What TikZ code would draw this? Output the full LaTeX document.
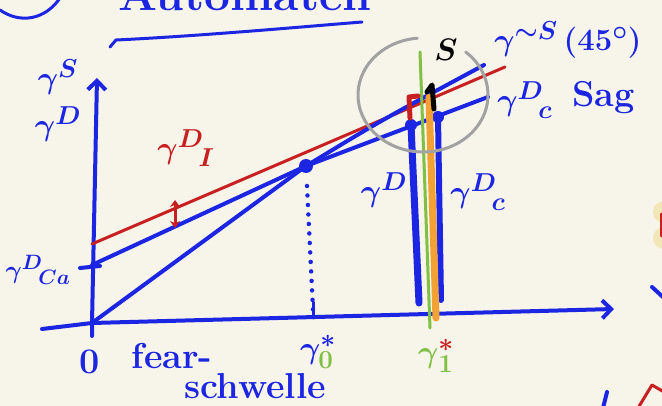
\documentclass[tikz,border=0pt]{standalone}
\usepackage{amsmath}
\usetikzlibrary{arrows.meta}
\definecolor{pen}{RGB}{28,38,226}
\definecolor{redpen}{RGB}{200,32,32}
\definecolor{greenpen}{RGB}{128,192,68}
\definecolor{orangepen}{RGB}{242,162,52}
\definecolor{graypen}{RGB}{162,162,162}
\definecolor{paper}{RGB}{247,244,234}
\definecolor{paleyellow}{RGB}{243,230,183}
\begin{document}
\begin{tikzpicture}[x=1pt,y=-1pt,line cap=round,line join=round,
  ink/.style={draw=pen,line width=4pt},
  redink/.style={draw=redpen,line width=3pt},
  lbl/.style={text=pen,inner sep=0pt,scale=1.25,font=\fontsize{24.88}{28}\selectfont\boldmath},
  word/.style={text=pen,inner sep=0pt,font=\fontsize{36}{40}\selectfont\bfseries},
  barb/.style={-{Straight Barb[length=9pt,width=18pt]}},
  dotb/.style={circle,fill=pen,inner sep=0pt,minimum size=#1}]
\fill[paper] (0,0) rectangle (662,406);
\useasboundingbox (0,0) rectangle (662,406);
\clip (0,0) rectangle (662,406);

% cut-off title and underline
\node[word,anchor=base west,font=\fontsize{46}{50}\selectfont\bfseries] (title) at (118,11) {Automaten};
\draw[ink,line width=3pt] (0,10) .. controls (20,24) and (45,20) .. (60,-2);
\coordinate (ulA) at (110,47);
\coordinate (ulB) at (116,40);
\coordinate (ulC) at (362,22);
\draw[ink,line width=3pt] (ulA) -- (ulB) .. controls (200,36) and (300,27) .. (ulC);

% axes
\coordinate (O) at (92,323);
\coordinate (yBot) at (92,336);
\coordinate (yTop) at (97,78);
\coordinate (xL) at (42,329);
\coordinate (xR) at (614,309);
\draw[ink,barb] (yBot) -- (O) -- (yTop);
\draw[ink,barb] (xL) -- (O) -- (xR);

% curves
\coordinate (Ca) at (92,265);
\coordinate (caL) at (80,268);
\coordinate (caR) at (100,266);
\draw[ink] (caL) -- (caR);
\coordinate (P) at (306,166);
\coordinate (steepEnd) at (484,65);
\coordinate (shallowEnd) at (488,97);
\coordinate (rA) at (92,244);
\coordinate (rB) at (505,67);
\draw[redink] (rA) -- (rB);
\draw[ink] (O) -- (P) .. controls (380,121) .. (steepEnd);
\draw[ink] (Ca) -- (P) -- (shallowEnd);
\node[dotb=14pt] (Pd) at (P) {};

% dotted drop to gamma_0*
\coordinate (dTop) at (307,186);
\coordinate (dBot) at (313,310);
\draw[pen,line width=4.5pt,dash pattern=on 0pt off 9.5pt] (dTop) -- (dBot);
\coordinate (tkA) at (313,302);
\coordinate (tkB) at (313,318);
\draw[ink,line width=3pt] (tkA) -- (tkB);

% red double arrow
\coordinate (arT) at (175,200);
\coordinate (arB) at (175,228);
\draw[redpen,line width=3pt,{Stealth[length=7pt,width=10pt]}-{Stealth[length=7pt,width=10pt]}] (arT) -- (arB);

% verticals
\coordinate (bl1) at (411,125);
\coordinate (bl2) at (419,303);
\coordinate (br1) at (438,117);
\coordinate (br2) at (441,300);
\coordinate (or1) at (429,97);
\coordinate (or2) at (436,318);
\coordinate (gr1) at (420,52);
\coordinate (gr2) at (430,328);
\draw[pen,line width=7pt] (bl1) -- (bl2);
\draw[pen,line width=6pt] (br1) -- (br2);
\node[dotb=12pt] (bld) at (bl1) {};
\node[dotb=12pt] (brd) at (br1) {};
\draw[orangepen,line width=7pt] (or1) -- (or2);
\draw[greenpen,line width=3pt] (gr1) -- (gr2);
\coordinate (rq1) at (409,97);
\coordinate (rq2) at (418,96);
\coordinate (rq3) at (410,118);
\draw[redpen,line width=5pt] (rq2) -- (rq1) -- (rq3);
\coordinate (bk1) at (427,92);
\coordinate (bk2) at (432,85);
\coordinate (bk3) at (434,109);
\draw[black,line width=5pt] (bk1) -- (bk2) -- (bk3);

% gray circle
\coordinate (gc) at (423,95);
\draw[graypen,line width=3pt] (gc) ++(-49:65 and 57) arc[start angle=-49,end angle=265,x radius=65,y radius=57];

% labels
\node[lbl] (lgS) at (58,77) {$\gamma^{S}$};
\node[lbl] (lgD) at (58,124) {$\gamma^{D}$};
\node[lbl,text=redpen] (lgI) at (186,148) {${\gamma^{D}}_{\!I}$};
\node[lbl,scale=0.8] (lgCa) at (38,270) {${\gamma^{D}}_{\!Ca}$};
\node[word] (l0) at (90,362) {0};
\node[word] (lfear) at (172,356) {fear-};
\node[word] (lschw) at (255,386) {schwelle};
\node[lbl] (lg0) at (318,352) {$\gamma_{\textcolor{greenpen}{0}}^{*}$};
\node[lbl] (lg1) at (436,356) {$\textcolor{greenpen}{\gamma}_{\textcolor{greenpen}{1}}^{\textcolor{redpen}{*}}$};
\node[lbl,text=black] (lS) at (446,50) {$S$};
\node[lbl,anchor=west] (lgSt) at (494,40) {$\gamma^{\sim S}\,(45^\circ)$};
\node[lbl,anchor=west] (lgDc) at (497,100) {${\gamma^{D}}_{\!c}$};
\node[word,anchor=west] (lsag) at (572,98) {Sag};
\node[lbl] (lgDv) at (384,190) {$\gamma^{D}$};
\node[lbl] (lgCv) at (478,192) {${\gamma^{D}}_{\!c}$};

% fragments at the right edge
\fill[paleyellow] (664,212) circle[radius=11];
\fill[paleyellow] (664,238) circle[radius=11];
\coordinate (fr1) at (661,214);
\coordinate (fr2) at (661,236);
\draw[redink] (fr1) -- (fr2);
\coordinate (fb1) at (652,287);
\coordinate (fb2) at (664,298);
\draw[ink] (fb1) -- (fb2);
\coordinate (fc1) at (607,392);
\coordinate (fc2) at (603,408);
\draw[ink] (fc1) -- (fc2);
\coordinate (fa1) at (638,408);
\coordinate (fa2) at (652,385);
\coordinate (fa3) at (664,392);
\draw[redink] (fa1) -- (fa2) -- (fa3);
\end{tikzpicture}
\end{document}
